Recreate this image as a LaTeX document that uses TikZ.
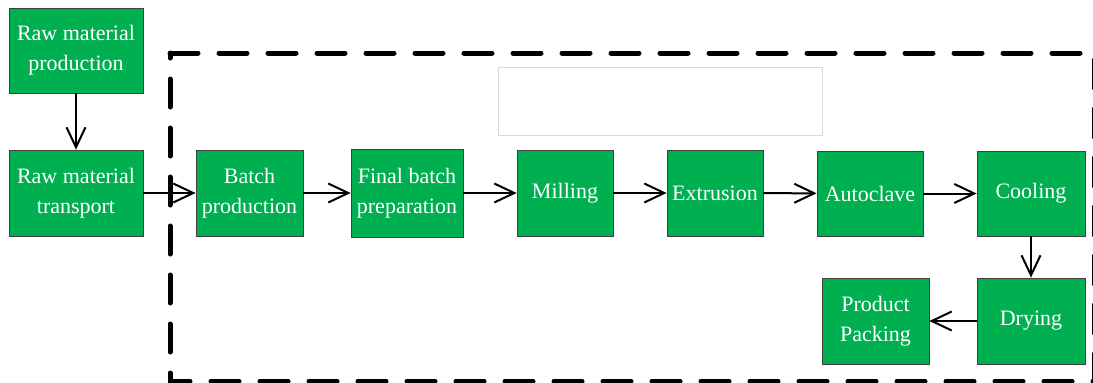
\documentclass[tikz,border=0pt]{standalone}
\usepackage{fontspec}
\setmainfont{Liberation Serif}
\usetikzlibrary{arrows.meta}
\definecolor{boxgreen}{HTML}{00AF50}
\definecolor{boxedge}{HTML}{404040}
\definecolor{lightedge}{HTML}{D9D9D9}
\tikzset{
  stepbox/.style={draw=boxedge, line width=0.8pt, fill=boxgreen, text=white,
    inner sep=0pt, align=center, font=\fontsize{22}{30}\selectfont},
  flow/.style={line width=2pt, -{Straight Barb[length=20pt,width=19pt,line width=2pt]}},
}
\newcommand{\boxat}[6]{% name, x1, y1, x2, y2, text
  \node[stepbox, minimum width={(#4-#2)*1pt}, minimum height={(#5-#3)*1pt}]
    (#1) at ({(#2+#4)/2*1pt},{-(#3+#5)/2*1pt}) {#6};}
\begin{document}
\begin{tikzpicture}[x=1pt,y=-1pt]
\useasboundingbox (0,0) rectangle (1093,383);
\begin{scope}
\clip (0,0) rectangle (1093,383);
\draw[line width=5pt, line cap=round, dash pattern=on 28pt off 21pt]
  (170,53) -- (1094,53) -- (1094,381) -- (170,381) -- cycle;
\end{scope}
\node[draw=lightedge, line width=0.8pt, minimum width=324pt, minimum height=68pt, inner sep=0pt]
  (blank) at (660,101) {};
\boxat{rmp}{9}{8}{143}{93}{Raw material\\production}
\boxat{rmt}{9}{150}{143}{236}{Raw material\\transport}
\boxat{bp}{196}{150}{303}{236}{Batch\\production}
\boxat{fbp}{351}{149}{463}{237}{Final batch\\preparation}
\boxat{mil}{517}{150}{613}{236}{Milling}
\boxat{ext}{667}{150}{763}{236}{Extrusion}
\boxat{aut}{817}{151}{923}{236}{Autoclave}
\boxat{coo}{977}{151}{1085}{236}{Cooling}
\boxat{dry}{977}{278}{1085}{364}{Drying}
\boxat{pp}{822}{278}{929}{364}{Product\\Packing}
\draw[flow] (rmp) -- (rmt);
\draw[flow] (rmt) -- (bp);
\draw[flow] (bp) -- (fbp);
\draw[flow] (fbp) -- (mil);
\draw[flow] (mil) -- (ext);
\draw[flow] (ext) -- (aut);
\draw[flow] (aut) -- (coo);
\draw[flow] (coo) -- (dry);
\draw[flow] (dry) -- (pp);
\end{tikzpicture}
\end{document}
